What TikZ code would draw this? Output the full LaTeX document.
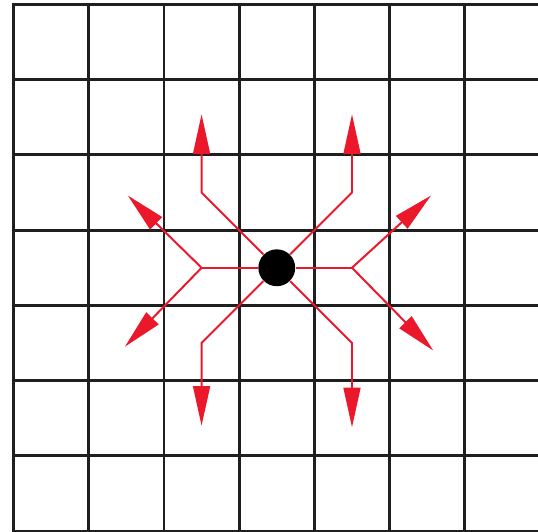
\documentclass[tikz,border=0pt]{standalone}
\usepackage{tikz}
\usetikzlibrary{arrows.meta, positioning}
\definecolor{raycol}{RGB}{234,24,42}

\begin{document}
\begin{tikzpicture}[
    gridline/.style={line width=1.1pt, black!88, line cap=rect},
    stem/.style={draw=raycol, line width=0.75pt},
    ray/.style={stem, -{Triangle[length=15pt, width=6.4pt]}},
    dot/.style={circle, fill=black, minimum size=0.49cm, inner sep=0pt}
]
    \useasboundingbox (-3.68,-3.50) rectangle (3.473,3.56);
    \clip (-3.68,-3.50) rectangle (3.473,3.56);
    % grid
    \foreach \x in {-3.5,-2.5,...,2.5}
        \draw[gridline] (\x,-3.5) -- (\x,3.5);
    \foreach \y in {-3.5,-2.5,...,3.5}
        \draw[gridline] (-3.5,\y) -- (3.7,\y);
    % source and branch points
    \node[dot] (ctr) at (0,0) {};
    \coordinate (jl) at (-1,0);
    \coordinate (jr) at (1,0);
    \coordinate (ul) at (-1,1);
    \coordinate (ur) at (1,1);
    \coordinate (dl) at (-1,-1);
    \coordinate (dr) at (1,-1);
    % arrow ends
    \coordinate (tul) at (-1,2.04);
    \coordinate (tur) at (1,2.04);
    \coordinate (tdl) at (-1,-2.1);
    \coordinate (tdr) at (1,-2.12);
    \coordinate (tlu) at (-1.98,0.96);
    \coordinate (tld) at (-2.02,-1.05);
    \coordinate (tru) at (2.05,0.96);
    \coordinate (trd) at (2.08,-1.1);
    % rays
    \draw[stem] (ctr) -- (jl);
    \draw[stem] (ctr) -- (jr);
    \draw[ray] (jl) -- (tlu);
    \draw[ray] (jl) -- (tld);
    \draw[ray] (jr) -- (tru);
    \draw[ray] (jr) -- (trd);
    \draw[ray] (ctr) -- (ul) -- (tul);
    \draw[ray] (ctr) -- (ur) -- (tur);
    \draw[ray] (ctr) -- (dl) -- (tdl);
    \draw[ray] (ctr) -- (dr) -- (tdr);
\end{tikzpicture}
\end{document}
